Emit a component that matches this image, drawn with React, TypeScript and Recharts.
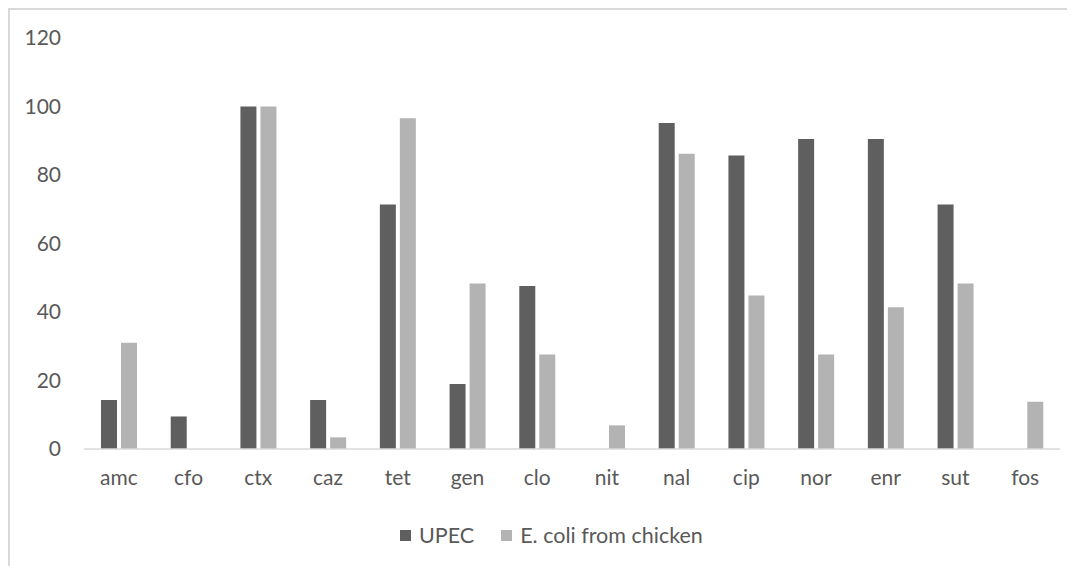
import React from 'react';
import { BarChart, Bar, XAxis, YAxis, Legend } from 'recharts';

const antibiotics = ['amc', 'cfo', 'ctx', 'caz', 'tet', 'gen', 'clo', 'nit', 'nal', 'cip', 'nor', 'enr', 'sut', 'fos'];
const upec = [14.3, 9.5, 100, 14.3, 71.4, 19.0, 47.6, 0, 95.2, 85.7, 90.5, 90.5, 71.4, 0];
const chicken = [31.0, 0, 100, 3.4, 96.6, 48.3, 27.6, 6.9, 86.2, 44.8, 27.6, 41.4, 48.3, 13.8];
const yTicks = [0, 20, 40, 60, 80, 100, 120];

const seriesNames = { upec: 'UPEC', chicken: 'E. coli from chicken' };
const colors = { upec: '#5f5f5f', chicken: '#b3b3b3' };

const data = antibiotics.map((name, i) => ({ name, upec: upec[i], chicken: chicken[i] }));

const FONT = 'Lato, "Open Sans", sans-serif';
const TEXT = '#595959';

const LegendBox = () => (
  <div style={{ display: 'flex', alignItems: 'center', height: 30, fontFamily: FONT, fontSize: 21.5, color: TEXT }}>
    {(['upec', 'chicken'] as const).map((k, i) => (
      <div key={k} style={{ display: 'flex', alignItems: 'center', marginLeft: i ? 27 : 0 }}>
        <span style={{ width: 11, height: 11, background: colors[k], marginRight: 8, display: 'inline-block' }} />
        <span>{seriesNames[k]}</span>
      </div>
    ))}
  </div>
);

export default function App() {
  return (
    <div style={{ width: 1066, height: 557, borderTop: '2px solid #d9d9d9', borderLeft: '2px solid #d9d9d9', background: '#fff' }}>
      <BarChart
        width={1065}
        height={556}
        data={data}
        margin={{ top: 28, right: 15, bottom: 27, left: 14 }}
        barCategoryGap="24%"
        barGap={4}
      >
        <XAxis
          dataKey="name"
          height={60}
          tickLine={false}
          axisLine={{ stroke: '#d9d9d9', strokeWidth: 1.5 }}
          tickMargin={15}
          tick={{ fill: TEXT, fontSize: 21, fontFamily: FONT }}
        />
        <YAxis
          width={60}
          domain={[0, 120]}
          ticks={yTicks}
          interval={0}
          axisLine={false}
          tickLine={false}
          tickMargin={17}
          tick={{ fill: TEXT, fontSize: 21, fontFamily: FONT }}
        />
        <Legend
          content={<LegendBox />}
          verticalAlign="bottom"
          wrapperStyle={{ top: 510, bottom: 'auto', left: 390, width: 500 }}
        />
        <Bar dataKey="upec" name={seriesNames.upec} fill={colors.upec} barSize={16} isAnimationActive={false} />
        <Bar dataKey="chicken" name={seriesNames.chicken} fill={colors.chicken} barSize={16} isAnimationActive={false} />
      </BarChart>
    </div>
  );
}
